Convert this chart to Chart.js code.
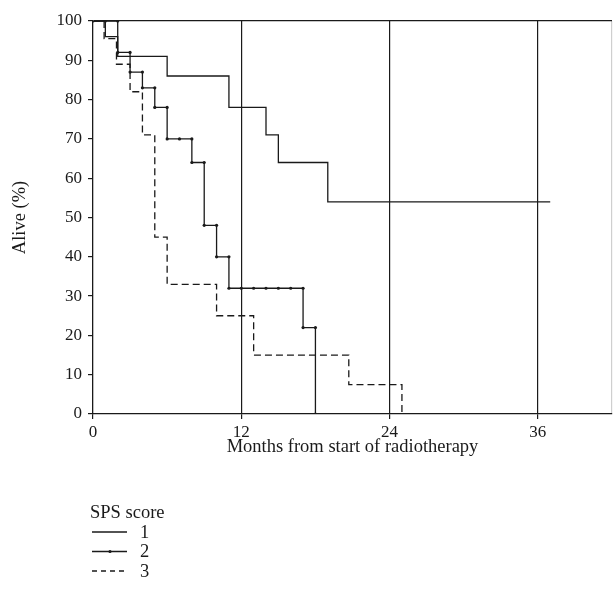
<!DOCTYPE html>
<html>
<head>
    <meta charset="utf-8">
    <title>Survival by SPS score</title>
    <script src="https://cdn.jsdelivr.net/npm/chart.js"></script>
</head>
<body style="margin:0; background-color:white;">
<div style="width:616px; height:594px;">
    <canvas id="myChart"></canvas>
</div>
<script>
    // x axis ticks (months)
    const monthTicks = [0, 12, 24, 36];

    // SPS score 1: step times and survival after each step
    const sps1Time  = [0, 1, 2, 6, 11, 14, 15, 19, 37];
    const sps1Alive = [100, 96, 91, 86, 78, 71, 64, 54, 54];

    // SPS score 2: survival level starting at each month (marked every month)
    const sps2Month = [0, 1, 2, 3, 4, 5, 6, 7, 8, 9, 10, 11, 12, 13, 14, 15, 16, 17, 18];
    const sps2Alive = [100, 100, 92, 87, 83, 78, 70, 70, 64, 48, 40, 32, 32, 32, 32, 32, 32, 22, 0];

    // SPS score 3
    const sps3Time  = [0, 0.9, 1.9, 3, 4, 5, 6, 10, 13, 20.7, 25];
    const sps3Alive = [100, 95.5, 89, 82, 71, 45, 33, 25, 15, 7.5, 0];

    const ink = '#1a1a1a';
    const serif = '"Liberation Serif", "DejaVu Serif", serif';

    function pairs(xs, ys) {
        return xs.map((x, i) => ({ x: x, y: ys[i] }));
    }

    // step vertices with both corners, so every corner gets a marker
    function stepCorners(xs, ys) {
        const pts = [];
        xs.forEach((x, i) => {
            if (i > 0 && ys[i] !== ys[i - 1]) pts.push({ x: x, y: ys[i - 1] });
            pts.push({ x: x, y: ys[i] });
        });
        return pts;
    }

    const legendPlugin = {
        id: 'spsLegend',
        afterDraw(chart) {
            const c = chart.ctx;
            c.save();
            c.font = '18.5px ' + serif;
            c.fillStyle = ink;
            c.textBaseline = 'middle';
            c.fillText('SPS score', 90, 513);
            chart.data.datasets.forEach((ds, i) => {
                const y = 532 + i * 19.5;
                c.strokeStyle = ds.borderColor;
                c.lineWidth = ds.borderWidth;
                c.setLineDash(ds.legendDash || []);
                c.beginPath();
                c.moveTo(92, y);
                c.lineTo(127, y);
                c.stroke();
                c.setLineDash([]);
                if (ds.pointRadius > 0) {
                    c.beginPath();
                    c.arc(110, y, ds.pointRadius, 0, Math.PI * 2);
                    c.fill();
                }
                c.fillText(ds.label, 140, y + 1);
            });
            c.restore();
        }
    };

    const ctx = document.getElementById('myChart').getContext('2d');
    window.myChart = new Chart(ctx, {
        type: 'line',
        data: {
            datasets: [{
                label: '1',
                data: pairs(sps1Time, sps1Alive),
                stepped: true,
                borderColor: ink,
                borderWidth: 1.3,
                pointRadius: 0,
                fill: false
            }, {
                label: '2',
                data: stepCorners(sps2Month, sps2Alive),
                borderColor: ink,
                backgroundColor: ink,
                borderWidth: 1.3,
                pointRadius: 1.6,
                pointBorderWidth: 0,
                fill: false
            }, {
                label: '3',
                data: pairs(sps3Time, sps3Alive),
                stepped: true,
                borderColor: ink,
                borderWidth: 1.3,
                borderDash: [7, 4],
                legendDash: [5, 4],
                pointRadius: 0,
                fill: false
            }]
        },
        plugins: [legendPlugin],
        options: {
            responsive: true,
            maintainAspectRatio: false,
            animation: false,
            layout: { padding: { top: 21, right: 0, bottom: 134, left: 0 } },
            plugins: {
                legend: { display: false },
                tooltip: { enabled: false }
            },
            scales: {
                x: {
                    type: 'linear',
                    min: 0,
                    max: 42,
                    afterFit: (s) => { s.height = 46; },
                    afterBuildTicks: (s) => {
                        s.ticks = monthTicks.concat([42]).map(v => ({ value: v }));
                    },
                    ticks: {
                        color: ink,
                        font: { family: serif, size: 17 },
                        padding: 3,
                        maxRotation: 0,
                        callback: (v) => (monthTicks.includes(v) ? String(v) : '')
                    },
                    grid: {
                        color: (c) => {
                            const v = c.tick ? c.tick.value : 0;
                            if (v === 42) return '#cfcfcf';
                            if (v === 0) return 'rgba(0,0,0,0)';
                            return ink;
                        },
                        tickColor: (c) => (c.tick && c.tick.value === 42 ? 'rgba(0,0,0,0)' : ink),
                        tickLength: 5,
                        lineWidth: 1.2
                    },
                    border: { color: ink, width: 1.3 },
                    title: {
                        display: true,
                        text: 'Months from start of radiotherapy',
                        color: ink,
                        font: { family: serif, size: 18.5 },
                        padding: { top: 0, bottom: 2 }
                    }
                },
                y: {
                    min: 0,
                    max: 100,
                    afterFit: (s) => { s.width = 93; },
                    ticks: {
                        stepSize: 10,
                        color: ink,
                        font: { family: serif, size: 17 },
                        padding: 6
                    },
                    grid: {
                        color: (c) => (c.tick && c.tick.value === 100 ? ink : 'rgba(0,0,0,0)'),
                        tickColor: ink,
                        tickLength: 5,
                        lineWidth: 1.2
                    },
                    border: { color: ink, width: 1.3 },
                    title: {
                        display: true,
                        text: 'Alive (%)',
                        color: ink,
                        font: { family: serif, size: 18.5 },
                        padding: { top: 9, bottom: 0 }
                    }
                }
            }
        }
    });
</script>
</body>
</html>
